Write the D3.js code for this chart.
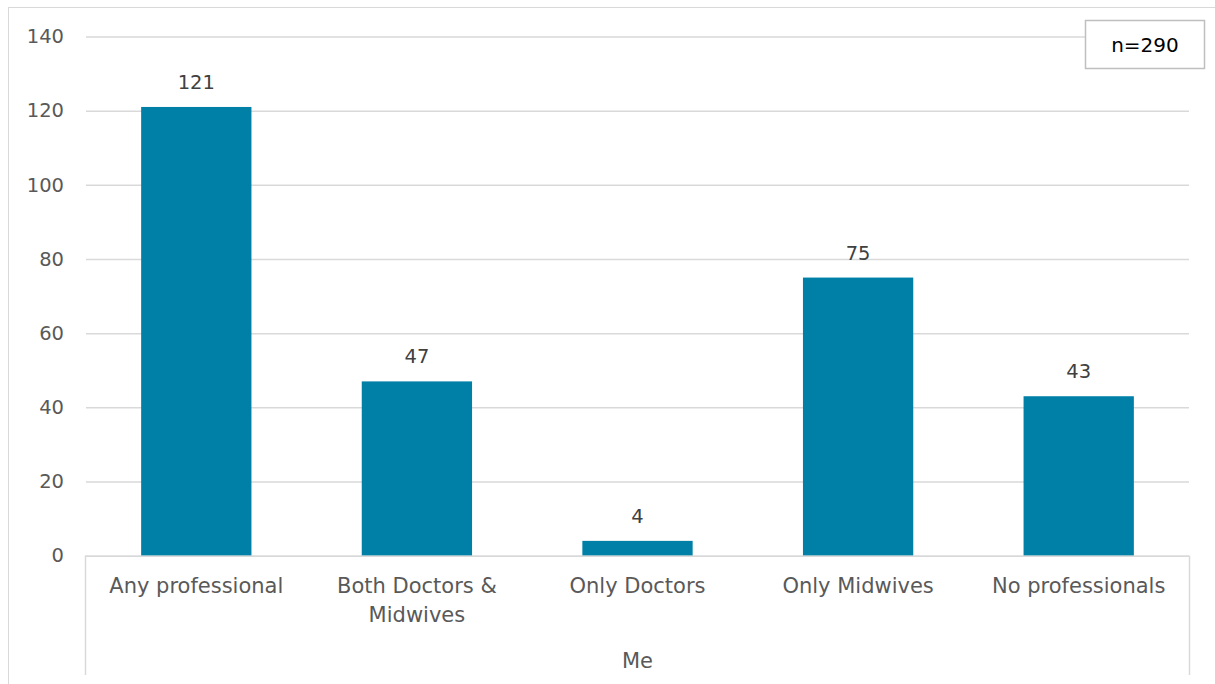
<!DOCTYPE html>
<html>
<head>
<meta charset="utf-8">
<script src="https://cdn.jsdelivr.net/npm/d3@7"></script>
<style>
  html, body { margin: 0; padding: 0; background: #fff; }
  svg { display: block; }
  text { font-family: "DejaVu Sans", Verdana, sans-serif; }
</style>
</head>
<body>
<svg id="chart" width="1215" height="684"></svg>
<script>
// Who was told: counts per group of professionals
const categories = ["Any professional", "Both Doctors & Midwives", "Only Doctors", "Only Midwives", "No professionals"];
const categoryLines = [["Any professional"], ["Both Doctors &", "Midwives"], ["Only Doctors"], ["Only Midwives"], ["No professionals"]];
const values = [121, 47, 4, 75, 43];
const yTicks = [0, 20, 40, 60, 80, 100, 120, 140];
const groupLabel = "Me";
const sampleNote = "n=290";

const W = 1215, H = 684;
const plotLeft = 86, plotRight = 1189, plotTop = 36.5, plotBottom = 555.7;

const svg = d3.select("#chart");

// chart frame
svg.append("rect")
  .attr("x", 8.5).attr("y", 7.5)
  .attr("width", W + 10).attr("height", H + 10)
  .attr("fill", "none").attr("stroke", "#d9d9d9").attr("stroke-width", 1);

const x = d3.scaleBand().domain(categories).range([plotLeft, plotRight])
  .paddingInner(0.5).paddingOuter(0.25);
const y = d3.scaleLinear().domain([0, 140]).range([plotBottom, plotTop]);

// gridlines + y labels
const yAxis = d3.axisLeft(y).tickValues(yTicks).tickSize(-(plotRight - plotLeft)).tickPadding(22);
const gy = svg.append("g").attr("transform", `translate(${plotLeft},0)`).call(yAxis);
gy.select(".domain").remove();
gy.selectAll(".tick line").attr("stroke", "#d9d9d9").attr("stroke-width", 1.5);
gy.selectAll(".tick text")
  .attr("fill", "#595959").attr("font-size", 19.5)
  .attr("font-family", "DejaVu Sans, Verdana, sans-serif");

// bars
svg.append("g").selectAll("rect").data(values).join("rect")
  .attr("x", (d, i) => x(categories[i]))
  .attr("y", d => y(d))
  .attr("width", x.bandwidth())
  .attr("height", d => y(0) - y(d))
  .attr("fill", "#0080a7");

// value labels
svg.append("g").selectAll("text").data(values).join("text")
  .attr("x", (d, i) => x(categories[i]) + x.bandwidth() / 2)
  .attr("y", d => y(d) - 18)
  .attr("text-anchor", "middle")
  .attr("fill", "#404040").attr("font-size", 19.5)
  .text(d => d);

// category axis (two levels)
const axisCol = "#d9d9d9";
const ga = svg.append("g");
ga.append("line").attr("x1", plotLeft - 1).attr("x2", plotRight).attr("y1", plotBottom + 0.5).attr("y2", plotBottom + 0.5)
  .attr("stroke", axisCol).attr("stroke-width", 1.5);
ga.append("line").attr("x1", plotLeft - 0.5).attr("x2", plotLeft - 0.5).attr("y1", plotBottom).attr("y2", 675)
  .attr("stroke", axisCol).attr("stroke-width", 1.5);
ga.append("line").attr("x1", plotRight + 0.5).attr("x2", plotRight + 0.5).attr("y1", plotBottom).attr("y2", 675)
  .attr("stroke", axisCol).attr("stroke-width", 1.5);

const labels = svg.append("g").selectAll("text").data(categories).join("text")
  .attr("x", d => x(d) + x.bandwidth() / 2)
  .attr("y", 593)
  .attr("text-anchor", "middle")
  .attr("fill", "#595959").attr("font-size", 21);
labels.each(function(d, i) {
  const t = d3.select(this);
  categoryLines[i].forEach((line, k) => {
    t.append("tspan").attr("x", x(d) + x.bandwidth() / 2).attr("dy", k === 0 ? 0 : 29).text(line);
  });
});

svg.append("text")
  .attr("x", (plotLeft + plotRight) / 2).attr("y", 668)
  .attr("text-anchor", "middle")
  .attr("fill", "#595959").attr("font-size", 21)
  .text(groupLabel);

// sample size note
svg.append("rect")
  .attr("x", 1085.5).attr("y", 20.5).attr("width", 119).attr("height", 48)
  .attr("fill", "#fff").attr("stroke", "#bfbfbf").attr("stroke-width", 1.5);
svg.append("text")
  .attr("x", 1145).attr("y", 52)
  .attr("text-anchor", "middle")
  .attr("fill", "#000").attr("font-size", 20)
  .text(sampleNote);
</script>
</body>
</html>
